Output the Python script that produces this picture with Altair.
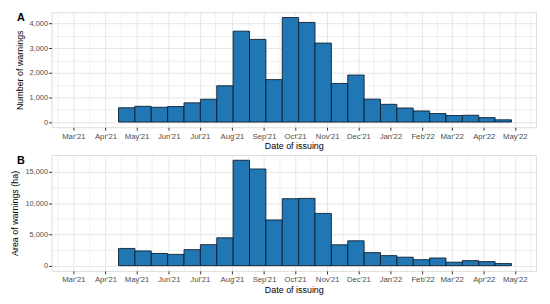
import altair as alt
import pandas as pd

# ---- data ----
n_bins = 24
first_bin_start = "2021-04-13T14:00:00"
bin_width_days = 15.8

warnings_count = [580, 640, 600, 630, 780, 925, 1475, 3695, 3360, 1725,
                  4250, 4050, 3210, 1570, 1910, 930, 720, 570, 450, 345,
                  265, 275, 180, 90]
warnings_area = [2750, 2350, 1950, 1800, 2550, 3350, 4450, 16850, 15450, 7300,
                 10700, 10750, 8350, 3330, 3970, 2080, 1600, 1350, 950, 1220,
                 550, 800, 640, 330]

month_ticks = ["2021-03-01", "2021-04-01", "2021-05-01", "2021-06-01", "2021-07-01",
               "2021-08-01", "2021-09-01", "2021-10-01", "2021-11-01", "2021-12-01",
               "2022-01-01", "2022-02-01", "2022-03-01", "2022-04-01", "2022-05-01"]
minor_ticks = ["2021-02-14", "2021-03-16", "2021-04-16", "2021-05-16", "2021-06-16",
               "2021-07-16", "2021-08-16", "2021-09-16", "2021-10-16", "2021-11-16",
               "2021-12-16", "2022-01-16", "2022-02-15", "2022-03-16", "2022-04-16",
               "2022-05-16"]

x_domain = ["2021-02-08T00:00:00", "2022-05-21T12:00:00"]

starts = [pd.Timestamp(first_bin_start) + pd.Timedelta(days=bin_width_days * k) for k in range(n_bins)]
ends = [s + pd.Timedelta(days=bin_width_days) for s in starts]

df = pd.DataFrame({
    "start": [s.strftime("%Y-%m-%dT%H:%M:%S") for s in starts],
    "end": [e.strftime("%Y-%m-%dT%H:%M:%S") for e in ends],
    "count": warnings_count,
    "area": warnings_area,
})


def dt(s):
    y, m, d = map(int, s.split("-"))
    return alt.DateTime(year=y, month=m, date=d)


x_values = [dt(s) for s in sorted(month_ticks + minor_ticks)]

FILL = "#2077B4"
GRID = "#E6E6E6"
LABEL_COLOR = "#4D4D4D"
FONT = "Liberation Sans"

x_axis = alt.Axis(
    title="Date of issuing",
    values=x_values,
    labelExpr="date(datum.value) == 1 ? timeFormat(datum.value, \"%b'%y\") : ''",
    labelOverlap=False,
    gridColor=GRID,
    gridWidth={"condition": {"test": "date(datum.value) == 1", "value": 1}, "value": 0.6},
    tickOpacity={"condition": {"test": "date(datum.value) == 1", "value": 1}, "value": 0},
    domain=False,
    tickColor="#333333",
    tickSize=3,
    labelPadding=2,
    titlePadding=2,
    titleFontWeight="normal",
    labelFont=FONT, titleFont=FONT, labelFontSize=7.8, titleFontSize=9,
    labelColor=LABEL_COLOR, titleColor="black",
)


def y_axis(title, major, minor_step, top):
    vals = list(range(0, top + 1, minor_step))
    return alt.Axis(
        title=title,
        values=vals,
        labelExpr=f"datum.value % {major} == 0 ? format(datum.value, ',') : ''",
        labelOverlap=False,
        gridColor=GRID,
        gridWidth={"condition": {"test": f"datum.value % {major} == 0", "value": 1}, "value": 0.6},
        tickOpacity={"condition": {"test": f"datum.value % {major} == 0", "value": 1}, "value": 0},
        domain=False,
        tickColor="#333333",
        tickSize=3,
        labelPadding=1,
        titlePadding=5,
        titleFontWeight="normal",
        labelFont=FONT, titleFont=FONT, labelFontSize=7.5, titleFontSize=9,
        labelColor=LABEL_COLOR, titleColor="black",
    )


def panel(field, ytitle, ydomain, major, minor_step, top, tag, height):
    base = alt.Chart(df)
    bars = base.mark_rect(fill=FILL, stroke="#0b1e33", strokeWidth=0.9).encode(
        x=alt.X("start:T", scale=alt.Scale(domain=x_domain), axis=x_axis),
        x2="end:T",
        y=alt.Y(f"{field}:Q", scale=alt.Scale(domain=ydomain, nice=False, zero=False),
                axis=y_axis(ytitle, major, minor_step, top)),
        y2=alt.datum(0),
    )
    label = alt.Chart(pd.DataFrame({"t": [tag]})).mark_text(
        font=FONT, fontSize=11, fontWeight="bold", align="left", baseline="top", color="black"
    ).encode(text="t:N", x=alt.value(-35), y=alt.value(0))
    return alt.layer(bars, label).properties(width=489, height=height)


top_chart = panel("count", "Number of warnings", [-212, 4462], 1000, 500, 4000, "A", 116)
bottom_chart = panel("area", "Area of warnings (ha)", [-842, 17692], 5000, 2500, 15000, "B", 117)

chart = alt.vconcat(top_chart, bottom_chart, spacing=2).properties(
    padding={"left": 2, "top": 2, "right": 5, "bottom": 2}
).configure_view(
    stroke="#9A9A9A", strokeWidth=1
).configure(background="white")

chart.save("out.html", embed_options={"renderer": "svg", "actions": False})
